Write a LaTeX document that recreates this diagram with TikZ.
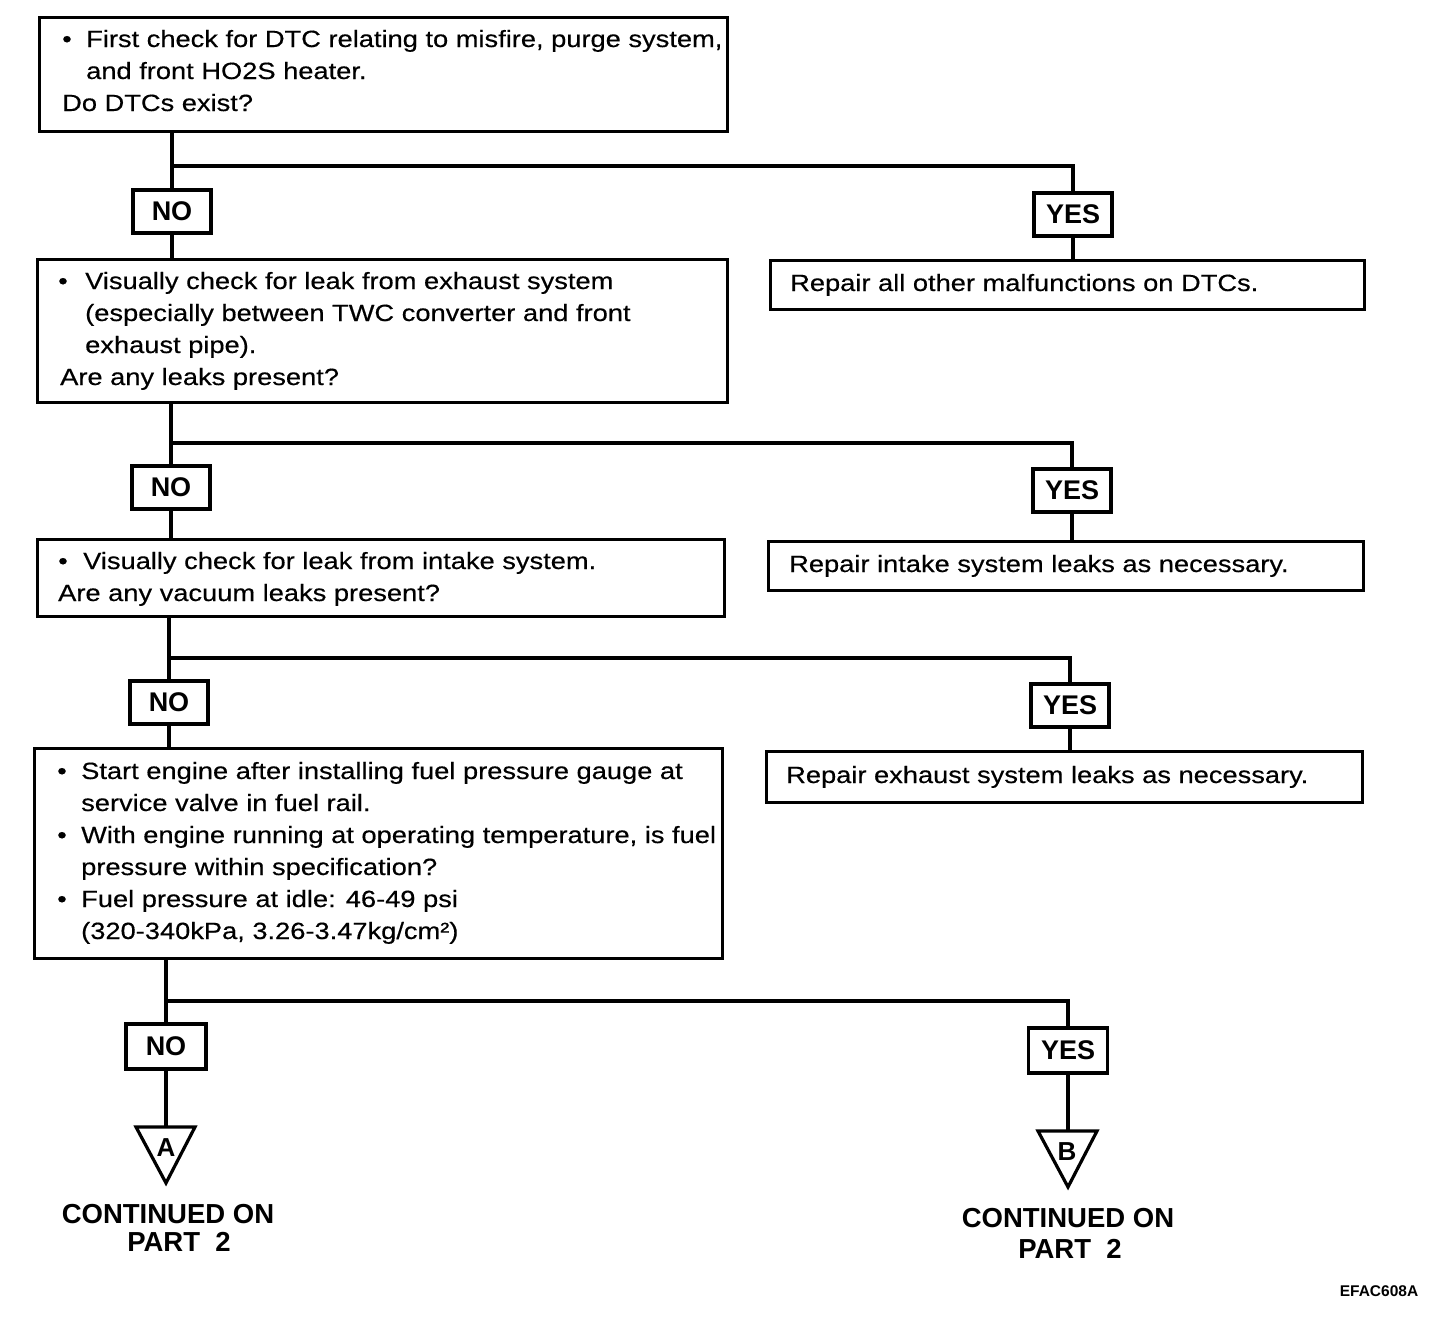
\documentclass[tikz,border=0pt]{standalone}
\usepackage{fontspec}
\setmainfont{Liberation Sans}
\newfontfamily\bodyfont[FakeStretch=1.16,FakeBold=0.4]{Liberation Sans}
\tikzset{
  box/.style={draw, line width=3.2pt, rectangle, inner sep=0pt, anchor=north west},
  yn/.style={draw, line width=3.2pt, rectangle, minimum width=78pt, minimum height=43pt, inner sep=0pt, font=\fontsize{27}{30}\selectfont\bfseries},
  txt/.style={anchor=base west, inner sep=0pt, font=\bodyfont\fontsize{23.5}{32}\selectfont},
  bul/.style={anchor=base, inner sep=0pt, font=\bodyfont\fontsize{23.5}{32}\selectfont},
  big/.style={anchor=base, inner sep=0pt, font=\fontsize{27.5}{30}\selectfont\bfseries},
  conn/.style={line width=3.2pt},
}
\begin{document}
\begin{tikzpicture}[x=1pt,y=-1pt]
\useasboundingbox (0,0) rectangle (1456,1336);
% question boxes
\node[box, minimum width=688pt, minimum height=114pt] (q1) at (38,16) {};
\node[box, minimum width=690pt, minimum height=143pt] (q2) at (36,258) {};
\node[box, minimum width=687pt, minimum height=77pt] (q3) at (36,538) {};
\node[box, minimum width=688pt, minimum height=210pt] (q4) at (33,747) {};
% repair boxes
\node[box, minimum width=594pt, minimum height=49pt] (r1) at (769,259) {};
\node[box, minimum width=595pt, minimum height=49pt] (r2) at (767,540) {};
\node[box, minimum width=596pt, minimum height=51pt] (r3) at (765,750) {};
% texts box 1
\node[bul] (b11) at (67,47) {•};
\node[txt] (t11) at (86,47) {First check for DTC relating to misfire, purge system,};
\node[txt] (t12) at (86,79) {and front HO2S heater.};
\node[txt] (t13) at (62,111) {Do DTCs exist?};
% box 2
\node[bul] (b21) at (63,289) {•};
\node[txt] (t21) at (85,289) {Visually check for leak from exhaust system};
\node[txt] (t22) at (85,321) {(especially between TWC converter and front};
\node[txt] (t23) at (85,353) {exhaust pipe).};
\node[txt] (t24) at (60,385) {Are any leaks present?};
% box 3
\node[bul] (b31) at (63,569) {•};
\node[txt] (t31) at (83,569) {Visually check for leak from intake system.};
\node[txt] (t32) at (58,601) {Are any vacuum leaks present?};
% box 4
\node[bul] (b41) at (62,779) {•};
\node[txt] (t41) at (81,779) {Start engine after installing fuel pressure gauge at};
\node[txt] (t42) at (81,811) {service valve in fuel rail.};
\node[bul] (b43) at (62,843) {•};
\node[txt] (t43) at (81,843) {With engine running at operating temperature, is fuel};
\node[txt] (t44) at (81,875) {pressure within specification?};
\node[bul] (b45) at (62,907) {•};
\node[txt] (t45) at (81,907) {Fuel pressure at idle: 46-49 psi};
\node[txt] (t46) at (81,939) {(320-340kPa, 3.26-3.47kg/cm²)};
% repair texts
\node[txt] (rt1) at (790,291) {Repair all other malfunctions on DTCs.};
\node[txt] (rt2) at (789,572) {Repair intake system leaks as necessary.};
\node[txt] (rt3) at (786,783) {Repair exhaust system leaks as necessary.};
% yes/no
\node[yn] (no1) at (172,211.5) {NO};
\node[yn] (yes1) at (1073,214.5) {YES};
\node[yn] (no2) at (171,487.5) {NO};
\node[yn] (yes2) at (1072,490.5) {YES};
\node[yn] (no3) at (169,702.5) {NO};
\node[yn] (yes3) at (1070,705.5) {YES};
\node[yn, minimum width=80pt, minimum height=45pt] (no4) at (166,1046.5) {NO};
\node[yn, minimum width=79pt, minimum height=45pt] (yes4) at (1068,1050.5) {YES};
% junctions
\coordinate (j1) at (172,166);
\coordinate (j2) at (171,443);
\coordinate (j3) at (169,658);
\coordinate (j4) at (166,1001);
% connectors
\draw[conn] (q1.south -| no1) -- (no1.north);
\draw[conn] (j1) -| (yes1.north);
\draw[conn] (no1.south) -- (no1.south |- q2.north);
\draw[conn] (yes1.south) -- (yes1.south |- r1.north);
\draw[conn] (q2.south -| no2) -- (no2.north);
\draw[conn] (j2) -| (yes2.north);
\draw[conn] (no2.south) -- (no2.south |- q3.north);
\draw[conn] (yes2.south) -- (yes2.south |- r2.north);
\draw[conn] (q3.south -| no3) -- (no3.north);
\draw[conn] (j3) -| (yes3.north);
\draw[conn] (no3.south) -- (no3.south |- q4.north);
\draw[conn] (yes3.south) -- (yes3.south |- r3.north);
\draw[conn] (q4.south -| no4) -- (no4.north);
\draw[conn] (j4) -| (yes4.north);
% connectors to triangles
\coordinate (tA) at (166,1127);
\coordinate (tB) at (1068,1131);
\draw[conn] (no4.south) -- (tA);
\draw[conn] (yes4.south) -- (tB);
\draw[conn, line join=miter] (136,1127) -- (195,1127) -- (166,1183) -- cycle;
\draw[conn, line join=miter] (1038,1131) -- (1097,1131) -- (1068,1187) -- cycle;
\node[anchor=base, inner sep=0pt, font=\fontsize{26}{28}\selectfont\bfseries] (la) at (166,1156) {A};
\node[anchor=base, inner sep=0pt, font=\fontsize{26}{28}\selectfont\bfseries] (lb) at (1067,1160) {B};
% continued labels
\node[big] (ca1) at (168,1223) {CONTINUED ON};
\node[big] (ca2) at (179,1251) {PART\ \ 2};
\node[big] (cb1) at (1068,1227) {CONTINUED ON};
\node[big] (cb2) at (1070,1258) {PART\ \ 2};
\node[anchor=base, inner sep=0pt, font=\fontsize{15.5}{17}\selectfont\bfseries] (code) at (1379,1296) {EFAC608A};
\end{tikzpicture}
\end{document}
